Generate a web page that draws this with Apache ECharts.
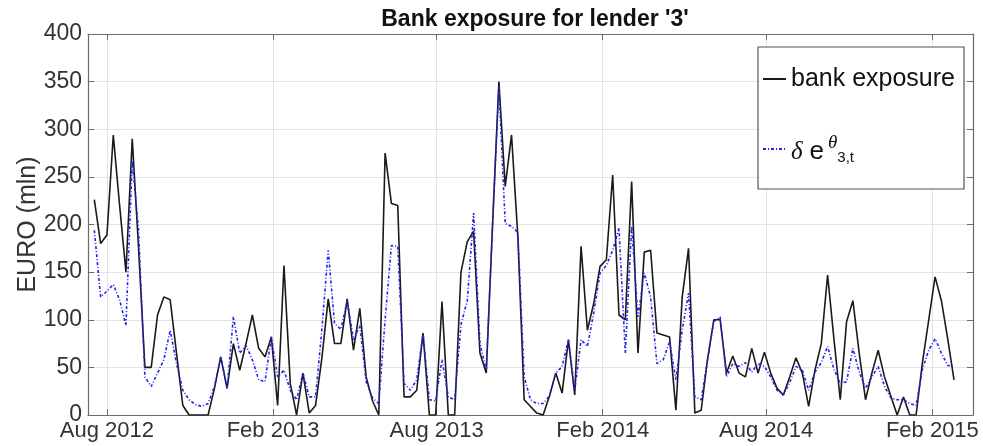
<!DOCTYPE html>
<html>
<head>
<meta charset="utf-8">
<script src="https://cdn.jsdelivr.net/npm/echarts@6/dist/echarts.min.js"></script>
<style>
  html, body { margin: 0; padding: 0; background: #fff; }
  #chart { width: 983px; height: 446px; }
</style>
</head>
<body>
<div id="chart"></div>
<script>
// Weekly observation dates (Wednesdays)
const weeks = [
  '2012-07-18','2012-07-25','2012-08-01','2012-08-08','2012-08-15','2012-08-22','2012-08-29','2012-09-05',
  '2012-09-12','2012-09-19','2012-09-26','2012-10-03','2012-10-10','2012-10-17','2012-10-24','2012-10-31',
  '2012-11-07','2012-11-14','2012-11-21','2012-11-28','2012-12-05','2012-12-12','2012-12-19','2012-12-26',
  '2013-01-02','2013-01-09','2013-01-16','2013-01-23','2013-01-30','2013-02-06','2013-02-13','2013-02-20',
  '2013-02-27','2013-03-06','2013-03-13','2013-03-20','2013-03-27','2013-04-03','2013-04-10','2013-04-17',
  '2013-04-24','2013-05-01','2013-05-08','2013-05-15','2013-05-22','2013-05-29','2013-06-05','2013-06-12',
  '2013-06-19','2013-06-26','2013-07-03','2013-07-10','2013-07-17','2013-07-24','2013-07-31','2013-08-07',
  '2013-08-14','2013-08-21','2013-08-28','2013-09-04','2013-09-11','2013-09-18','2013-09-25','2013-10-02',
  '2013-10-09','2013-10-16','2013-10-23','2013-10-30','2013-11-06','2013-11-13','2013-11-20','2013-11-27',
  '2013-12-04','2013-12-11','2013-12-18','2013-12-25',
  '2014-01-01','2014-01-08','2014-01-15','2014-01-22','2014-01-29','2014-02-05','2014-02-12','2014-02-19',
  '2014-02-26','2014-03-05','2014-03-12','2014-03-19','2014-03-26','2014-04-02','2014-04-09','2014-04-16',
  '2014-04-23','2014-04-30','2014-05-07','2014-05-14','2014-05-21','2014-05-28','2014-06-04','2014-06-11',
  '2014-06-18','2014-06-25','2014-07-02','2014-07-09','2014-07-16','2014-07-23','2014-07-30','2014-08-06',
  '2014-08-13','2014-08-20','2014-08-27','2014-09-03','2014-09-10','2014-09-17','2014-09-24','2014-10-01',
  '2014-10-08','2014-10-15','2014-10-22','2014-10-29','2014-11-05','2014-11-12','2014-11-19','2014-11-26',
  '2014-12-03','2014-12-10','2014-12-17','2014-12-24','2014-12-31',
  '2015-01-07','2015-01-14','2015-01-21','2015-01-28','2015-02-04','2015-02-11','2015-02-18','2015-02-25'
];

// Observed bank exposure, EURO mln
const bankExposure = [
  226,180,189,294,220,150,290,175, 50, 50,105,124,121, 65, 10,  0,
    0,  0,  0, 28, 61, 28, 75, 47, 75,105, 70, 61, 82, 10,157, 33,
    0, 44,  2, 10, 60,122, 75, 75,122, 68,112, 40, 15,  0,275,222,
  220, 19, 19, 26, 86,  0,  0,119,  0,  0,150,182,193, 65, 44,200,
  350,240,294,187, 16,  9,  2,  0, 20, 44, 23, 79, 21,177, 89,117,
  156,163,252,105,100,245, 65,171,173, 86, 84, 82,  5,124,175,  2,
    5, 58,100,100, 44, 62, 44, 40, 70, 44, 66, 44, 28, 21, 40, 60,
   44,  9, 47, 75,147, 80, 16, 98,120, 65, 16, 44, 68, 40, 20,  0,
   19,  0,  0, 55,100,145,120, 80, 37
];

// Model estimate delta * e^theta(3,t), EURO mln
const modelExposure = [
  194,124,130,137,121, 94,267,194, 40, 30, 44, 58, 89, 54, 26, 16,
   11,  9, 12, 30, 61, 28,103, 65, 73, 58, 37, 35, 82, 40, 47, 26,
   16, 44, 19, 19, 90,173, 96, 90,120, 79, 94, 35, 18, 12,100,178,
  177, 33, 26, 37, 86, 16, 15, 58, 19, 16, 95,120,212, 75, 47,200,
  345,201,198,192, 40, 16, 12, 12, 20, 44, 51, 79, 26, 79, 72,107,
  149,157,173,196, 65,198,103,149,124, 54, 58, 77, 37, 89,128, 19,
   16, 58, 98,103, 40, 54, 51, 55, 45, 54, 51, 40, 26, 21, 34, 51,
   47, 26, 45, 55, 72, 48, 33, 35, 70, 45, 28, 40, 51, 30, 18, 16,
   16, 12, 10, 48, 68, 80, 65, 52, 51
];

// Axis ticks
const xTickDates = ['2012-08-01','2013-02-01','2013-08-01','2014-02-01','2014-08-01','2015-02-01'];
const xRange = ['2012-07-11', '2015-03-18'];
const yTicks = [0, 50, 100, 150, 200, 250, 300, 350, 400];

const monthNames = ['Jan','Feb','Mar','Apr','May','Jun','Jul','Aug','Sep','Oct','Nov','Dec'];
function toTime(s) {
  const p = s.split('-').map(Number);
  return Date.UTC(p[0], p[1] - 1, p[2]);
}
const xTickValues = xTickDates.map(toTime);

const FONT = 'Liberation Sans';
const SERIF = 'Liberation Serif';
const AXIS_COLOR = '#6b6b6b';
const TEXT_COLOR = '#333';
const GRID_COLOR = '#e3e3e3';

// Dates are placed on a linear axis in milliseconds so that ticks can sit on the 1st of Feb/Aug
const baseX = {
  type: 'value',
  min: toTime(xRange[0]),
  max: toTime(xRange[1]),
  axisLine: { show: true, onZero: false, lineStyle: { color: AXIS_COLOR, width: 1.2 } },
  axisTick: { show: true, inside: true, length: 6, customValues: xTickValues, lineStyle: { color: AXIS_COLOR } }
};
const baseY = {
  type: 'value',
  min: yTicks[0],
  max: yTicks[yTicks.length - 1],
  interval: yTicks[1] - yTicks[0],
  axisLine: { show: true, onZero: false, lineStyle: { color: AXIS_COLOR, width: 1.2 } },
  axisTick: { show: true, inside: true, length: 6, lineStyle: { color: AXIS_COLOR } }
};

const chart = echarts.init(document.getElementById('chart'), null, { renderer: 'canvas' });

chart.setOption({
  animation: false,
  backgroundColor: '#fff',
  title: {
    text: "Bank exposure for lender '3'",
    left: 530,
    top: 3,
    textAlign: 'center',
    textStyle: { fontFamily: FONT, fontWeight: 'bold', fontSize: 23, color: '#111' }
  },
  grid: { left: 88, right: 10, top: 34, bottom: 31, containLabel: false },
  legend: {
    orient: 'vertical',
    left: 758,
    top: 47,
    padding: [16, 9, 24, 4],
    itemGap: 38,
    itemWidth: 23,
    itemHeight: 14,
    backgroundColor: '#fff',
    borderColor: '#555',
    borderWidth: 1.2,
    borderRadius: 0,
    itemStyle: { opacity: 0 },
    textStyle: {
      fontFamily: FONT,
      fontSize: 25,
      color: '#111',
      lineHeight: 32,
      rich: {
        d: { fontFamily: SERIF, fontStyle: 'italic', fontSize: 25, color: '#111', lineHeight: 32, verticalAlign: 'bottom' },
        e: { fontFamily: FONT, fontSize: 26, color: '#111', lineHeight: 32, verticalAlign: 'bottom' },
        th: { fontFamily: SERIF, fontStyle: 'italic', fontSize: 19, color: '#111', lineHeight: 20, verticalAlign: 'top', padding: [0, 0, 0, 4] },
        sub: { fontFamily: FONT, fontSize: 15, color: '#111', lineHeight: 32, verticalAlign: 'bottom' }
      }
    },
    formatter: function (name) {
      if (name === 'model') return '{d|δ} {e|e}{th|θ}{sub|3,t}';
      return name;
    },
    data: ['bank exposure', 'model']
  },
  xAxis: [
    Object.assign({}, baseX, {
      position: 'bottom',
      axisLabel: {
        show: true,
        customValues: xTickValues,
        margin: 5,
        fontFamily: FONT,
        fontSize: 22,
        color: TEXT_COLOR,
        formatter: function (v) {
          const d = new Date(v);
          return monthNames[d.getUTCMonth()] + ' ' + d.getUTCFullYear();
        }
      },
      splitLine: { show: true, lineStyle: { color: GRID_COLOR, width: 1 } }
    }),
    Object.assign({}, baseX, {
      position: 'top',
      axisLabel: { show: false },
      splitLine: { show: false }
    })
  ],
  yAxis: [
    Object.assign({}, baseY, {
      position: 'left',
      name: 'EURO (mln)',
      nameLocation: 'middle',
      nameGap: 47,
      nameMoveOverlap: false,
      nameRotate: 90,
      nameTextStyle: { fontFamily: FONT, fontSize: 25, color: TEXT_COLOR },
      axisLabel: { show: true, margin: 6, fontFamily: FONT, fontSize: 23, color: TEXT_COLOR },
      splitLine: { show: true, lineStyle: { color: GRID_COLOR, width: 1 } }
    }),
    Object.assign({}, baseY, {
      position: 'right',
      axisLabel: { show: false },
      splitLine: { show: false }
    })
  ],
  series: [
    {
      name: 'bank exposure',
      type: 'line',
      xAxisIndex: 0,
      yAxisIndex: 0,
      showSymbol: false,
      symbol: 'none',
      data: weeks.map((d, i) => [toTime(d), bankExposure[i]]),
      lineStyle: { color: '#1a1a1a', width: 1.6 },
      itemStyle: { color: '#1a1a1a' }
    },
    {
      name: 'model',
      type: 'line',
      xAxisIndex: 0,
      yAxisIndex: 0,
      showSymbol: false,
      symbol: 'none',
      data: weeks.map((d, i) => [toTime(d), modelExposure[i]]),
      lineStyle: { color: '#2222ee', width: 1.6, type: [3, 2, 1, 2] },
      itemStyle: { color: '#2222ee' }
    }
  ]
});
</script>
</body>
</html>
